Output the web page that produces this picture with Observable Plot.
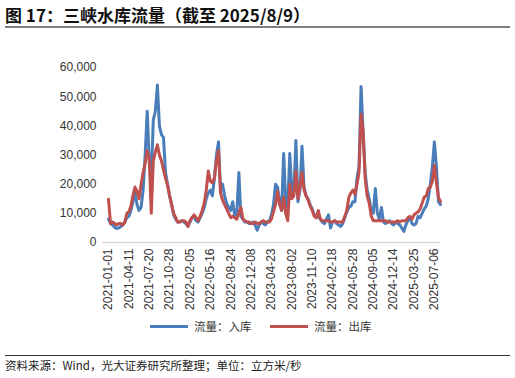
<!DOCTYPE html>
<html><head><meta charset="utf-8">
<script src="https://cdn.jsdelivr.net/npm/d3@7"></script>
<script src="https://cdn.jsdelivr.net/npm/@observablehq/plot@0.6"></script>
<style>
body{margin:0;width:515px;height:378px;overflow:hidden;background:#fff;font-family:"Liberation Sans","Noto Sans CJK SC",sans-serif;}
#title{position:absolute;left:5px;top:2px;font-size:17px;font-weight:bold;color:#111;font-family:"Noto Sans CJK SC",sans-serif;}
#tline{position:absolute;left:5px;top:26px;width:505px;height:2px;background:#7f7f7f;}
#chart{position:absolute;left:0;top:30px;}
#legend{position:absolute;top:318px;left:0;width:515px;height:18px;font-size:11.5px;color:#333;font-family:"Noto Sans CJK SC",sans-serif;}
.lg{position:absolute;top:0;display:flex;align-items:center;}
.sw{display:inline-block;width:38px;height:3px;margin-right:6px;}
#fline{position:absolute;left:5px;top:355px;width:505px;height:1px;background:#333;}
#foot{position:absolute;left:5px;top:357px;font-size:11.5px;color:#222;font-family:"Noto Sans CJK SC",sans-serif;}
</style></head>
<body>
<div id="title">图 17：三峡水库流量（截至 2025/8/9）</div>
<div id="tline"></div>
<div id="chart"></div>
<div id="legend"></div>
<div id="fline"></div>
<div id="foot">资料来源：Wind，光大证券研究所整理；单位：立方米/秒</div>
<script>
// Category axis labels: one every 100 observations
const tickLabels = ["2021-01-01","2021-04-11","2021-07-20","2021-10-28","2022-02-05","2022-05-16","2022-08-24","2022-12-08","2023-04-23","2023-08-02","2023-11-10","2024-02-18","2024-05-28","2024-09-05","2024-12-14","2025-03-25","2025-07-06"];
const seriesNames = ["流量：入库","流量：出库"];
const seriesColors = ["#4a7ebb","#c0504d"];
const step = 10; // every 10th observation read from the picture
// 入库流量 (m3/s)
const inflow = [8000,6500,6000,5200,4800,5000,5500,6000,7000,8500,
9000,11000,14000,17000,13000,11000,12000,18000,30000,45000,
28000,22000,42000,45000,54000,40000,37000,36000,24000,20000,
16000,13000,9500,8000,7000,7000,7500,7000,6500,5500,
7000,8500,9000,7500,7000,8500,10000,12000,15000,17000,
18000,16000,22000,30000,34500,18000,20000,16000,13500,12000,
11000,14000,9000,10000,24000,9000,8000,7000,7000,6500,
6500,7000,6000,4200,6000,7000,6500,6000,7000,7500,
9500,13000,20000,19000,14000,11000,30500,14000,12000,30500,
18000,17000,35000,14000,18000,33000,19000,16000,15000,13000,
11500,9500,8500,9000,8000,7000,6500,8000,9500,5000,
7000,7500,6500,6000,5500,6500,8500,10500,12000,12500,
14000,14000,22000,26000,53500,38000,24000,18000,15000,11000,
10000,18500,10000,8000,12000,7000,6500,7000,7500,6500,
6000,7000,6500,6000,5000,3800,6000,7500,8500,6500,
6000,6500,9000,8500,10000,11500,12500,15000,20000,26000,
34500,26000,14000,13000];
// 出库流量 (m3/s)
const outflow = [14800,6500,7000,6500,6000,6500,6500,6000,7000,10000,
10500,12500,16000,19000,17500,15000,20000,24000,27000,31500,
29000,10000,28000,31000,33500,30000,28000,25000,22000,19500,
16000,13000,10000,8500,7000,7000,7500,7500,7000,5500,
7500,8500,9500,8500,7500,9000,11000,13500,18000,24500,
21000,20500,22000,28000,31500,17000,14500,13000,11500,10000,
8500,9000,8500,8000,10000,12000,8000,7500,7000,7000,
6500,6500,7000,6500,6500,7000,7500,7000,7000,7000,
8000,10500,13000,17500,13000,11000,15500,10000,7500,20000,
15000,16000,24500,15000,19000,24000,18000,16000,14500,12500,
11000,9000,8500,11000,8000,7500,7500,7500,7500,7000,
7000,7500,7000,7000,7000,7000,9000,11000,15500,17000,
18000,16500,20000,24000,44000,38000,22000,16000,13500,9000,
7500,7500,7500,7500,7500,7500,7500,7000,7000,7000,
7000,7000,7500,7000,7500,7500,7500,8500,9000,8000,
9500,10000,10500,11500,13500,15500,16000,18500,19000,21000,
26500,20500,15500,14000];

const rows = [];
inflow.forEach((v,i)=>rows.push({i:i*step, v, s:seriesNames[0]}));
outflow.forEach((v,i)=>rows.push({i:i*step, v, s:seriesNames[1]}));
const lastIdx = (inflow.length-1)*step;

const plot = Plot.plot({
  width: 515, height: 285,
  marginTop: 37, marginBottom: 73, marginLeft: 108, marginRight: 75,
  style: {fontFamily: '"Liberation Sans", sans-serif', fontSize: "12px", color: "#333", background: "transparent"},
  x: {type: "linear", domain: [0, lastIdx], ticks: tickLabels.map((d,j)=>j*100),
      tickFormat: d => tickLabels[d/100], tickRotate: -90, tickSize: 0, tickPadding: 6, label: null},
  y: {domain: [0, 60000], ticks: d3.range(0, 60001, 10000), tickFormat: d3.format(","), tickSize: 0, tickPadding: 12, label: null},
  color: {domain: seriesNames, range: seriesColors},
  marks: [
    Plot.ruleY([0], {stroke: "#d9d9d9", strokeWidth: 1.5, x1: -30, x2: lastIdx}),
    Plot.lineY(rows, {x: "i", y: "v", z: "s", stroke: "s", strokeWidth: 3, strokeLinejoin: "round"})
  ]
});
document.getElementById("chart").appendChild(plot);

const lg = document.getElementById("legend");
const lx = [150, 270];
seriesNames.forEach((n,j)=>{
  const d = document.createElement("div");
  d.className = "lg"; d.style.left = lx[j] + "px";
  d.innerHTML = `<span class="sw" style="background:${seriesColors[j]}"></span><span>${n}</span>`;
  lg.appendChild(d);
});
</script>
</body></html>
